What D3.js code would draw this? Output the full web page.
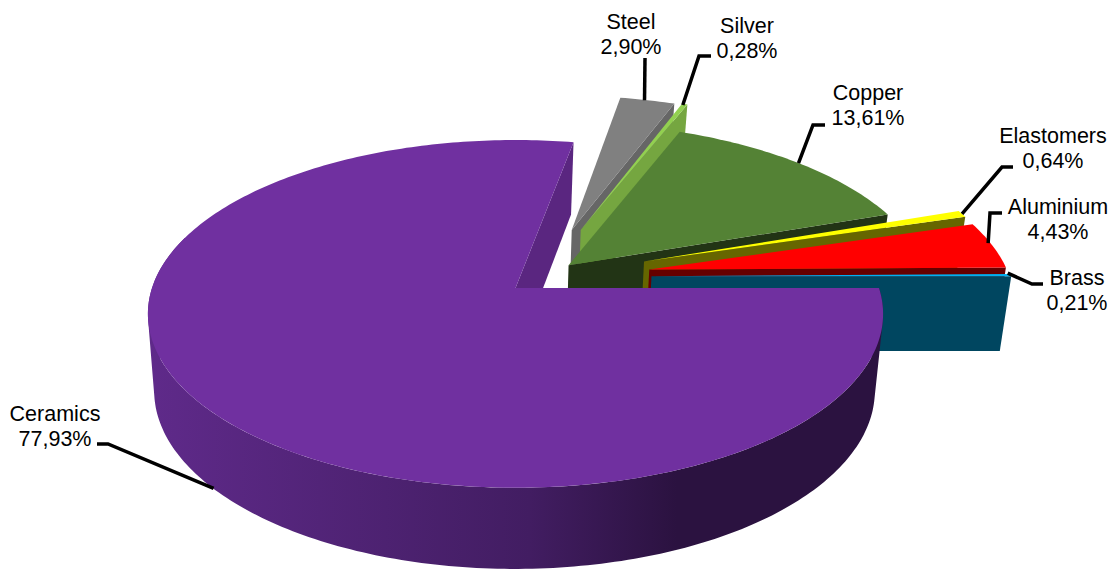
<!DOCTYPE html>
<html>
<head>
<meta charset="utf-8">
<script src="https://cdn.jsdelivr.net/npm/d3@7"></script>
<style>
  body { margin: 0; background: #fff; }
  svg { display: block; }
  text { font-family: "Liberation Sans", Arial, sans-serif; font-size: 21.5px; fill: #000; }
</style>
</head>
<body>
<div id="graph-container"></div>
<script>
// Data
const categories = ["Ceramics", "Steel", "Silver", "Copper", "Elastomers", "Aluminium", "Brass"];
const shares = [77.93, 2.90, 0.28, 13.61, 0.64, 4.43, 0.21];

// Slice colours, and how much each cut face is darkened
const topColors = ["#7030A0", "#808080", "#92D050", "#548235", "#FFFF00", "#FF0000", "#00B0F0"];
const faceShade = [0.8, 0.8, 0.8, 0.4, 0.4, 0.4, 0.4];

// How far each slice is pulled out, in pie radii
const explodeX = [0, 0.163, 0.189, 0.149, 0.362, 0.374, 0.378];
const explodeY = [0, -0.36, -0.36, -0.137, -0.16, -0.11, -0.07];

// Label centres and the leader line bends
const labelX = [55, 631, 747, 868, 1053, 1058, 1077];
const labelY = [421, 29, 33, 100, 143, 214, 285];
const leaderBends = [
  [[97, 444], [108, 444]],
  [[645, 58]],
  [[711, 56], [699, 56]],
  [[825, 125], [813, 125]],
  [[1013, 167], [1002, 167]],
  [[1002, 213], [990, 213]],
  [[1043, 284], [1032, 284]]
];
// Small correction where a leader meets the rim
const leaderShift = [[3, 2], [-3, 0], [-2, 1], [0, 0], [0, 0], [-4, -2], [-3, -2]];

const width = 1115;
const height = 569;

// The pie is tilted, so top and bottom faces are two perspective planes
const topPlane = { cx: 515.5, cy: 288, r: 363.5, rk: 170, p: 0.149 };
const bottomPlane = { cx: 514.5, cy: 363, r: 356, rk: 174, p: 0.155 };

const project = (plane, x, y) => {
  const f = 1 / (1 - plane.p * y);
  return [plane.cx + plane.r * x * f, plane.cy + plane.rk * y * f];
};

const svg = d3.select("#graph-container")
  .append("svg")
  .attr("width", width)
  .attr("height", height);

const pie = d3.pie()
  .sort(null)
  .startAngle(Math.PI / 2)
  .endAngle(Math.PI / 2 + 2 * Math.PI);
const arcs = pie(shares);

const rimPoint = (plane, i, angle) => project(
  plane,
  explodeX[i] + Math.sin(angle),
  explodeY[i] - Math.cos(angle)
);
const apexPoint = (plane, i) => project(plane, explodeX[i], explodeY[i]);
const rimAngles = (a0, a1) => {
  const steps = Math.max(2, Math.ceil(Math.abs(a1 - a0) * 60));
  return d3.range(steps + 1).map(k => a0 + (a1 - a0) * k / steps);
};

const line = d3.line();
const shade = (color, k) => {
  const c = d3.rgb(color);
  return d3.rgb(c.r * k, c.g * k, c.b * k).formatHex();
};

// Gradient on the curved wall of the big slice
const wallStops = [0, 0.52, 0.72, 1];
const wallColors = d3.scaleLinear()
  .domain(wallStops)
  .range(["#5f2a8a", "#421d62", "#2b1240", "#2b1240"]);
const gradient = svg.append("defs").append("linearGradient")
  .attr("id", "wall")
  .attr("gradientUnits", "userSpaceOnUse")
  .attr("x1", 148).attr("x2", 882).attr("y1", 0).attr("y2", 0);
wallStops.forEach(t => {
  gradient.append("stop").attr("offset", t).attr("stop-color", wallColors(t));
});

// Back to front: cut face of each slice, then its top
const drawFace = (i, angle) => {
  svg.append("path")
    .attr("d", line([
      apexPoint(topPlane, i),
      rimPoint(topPlane, i, angle),
      rimPoint(bottomPlane, i, angle),
      apexPoint(bottomPlane, i)
    ]) + "Z")
    .attr("fill", shade(topColors[i], faceShade[i]));
};
const drawTop = i => {
  svg.append("path")
    .attr("d", line([
      apexPoint(topPlane, i),
      ...rimAngles(arcs[i].startAngle, arcs[i].endAngle).map(a => rimPoint(topPlane, i, a))
    ]) + "Z")
    .attr("fill", topColors[i]);
};

drawFace(0, arcs[0].endAngle);
d3.range(1, categories.length).forEach(i => {
  drawFace(i, arcs[i].endAngle);
  drawTop(i);
});

// Curved wall of the big slice: one quad per rim step so the sides stay straight.
// All quads need the same winding or they cancel out where they overlap.
const wallAngles = rimAngles(arcs[0].startAngle, Math.PI * 1.6);
const wallPath = d3.pairs(wallAngles).map(([a, b]) => {
  const quad = [
    rimPoint(topPlane, 0, a),
    rimPoint(bottomPlane, 0, a),
    rimPoint(bottomPlane, 0, b),
    rimPoint(topPlane, 0, b)
  ];
  return line(d3.polygonArea(quad) < 0 ? quad.reverse() : quad) + "Z";
}).join("");
svg.append("path")
  .attr("d", wallPath)
  .attr("fill", "url(#wall)");
drawTop(0);

// Leader lines run from the slice rim to the label
arcs.forEach((a, i) => {
  const mid = (a.startAngle + a.endAngle) / 2;
  const anchor = rimPoint(i === 0 ? bottomPlane : topPlane, i, mid);
  const end = [anchor[0] + leaderShift[i][0], anchor[1] + leaderShift[i][1]];
  svg.append("path")
    .attr("d", line([...leaderBends[i], end]))
    .attr("fill", "none")
    .attr("stroke", "#000")
    .attr("stroke-width", 3.5);
});

// Labels
const percent = v => d3.format(".2f")(v).replace(".", ",") + "%";
categories.forEach((name, i) => {
  const label = svg.append("text")
    .attr("text-anchor", "middle")
    .attr("x", labelX[i])
    .attr("y", labelY[i]);
  label.append("tspan").attr("x", labelX[i]).text(name);
  label.append("tspan").attr("x", labelX[i]).attr("dy", 24.5).text(percent(shares[i]));
});
</script>
</body>
</html>
